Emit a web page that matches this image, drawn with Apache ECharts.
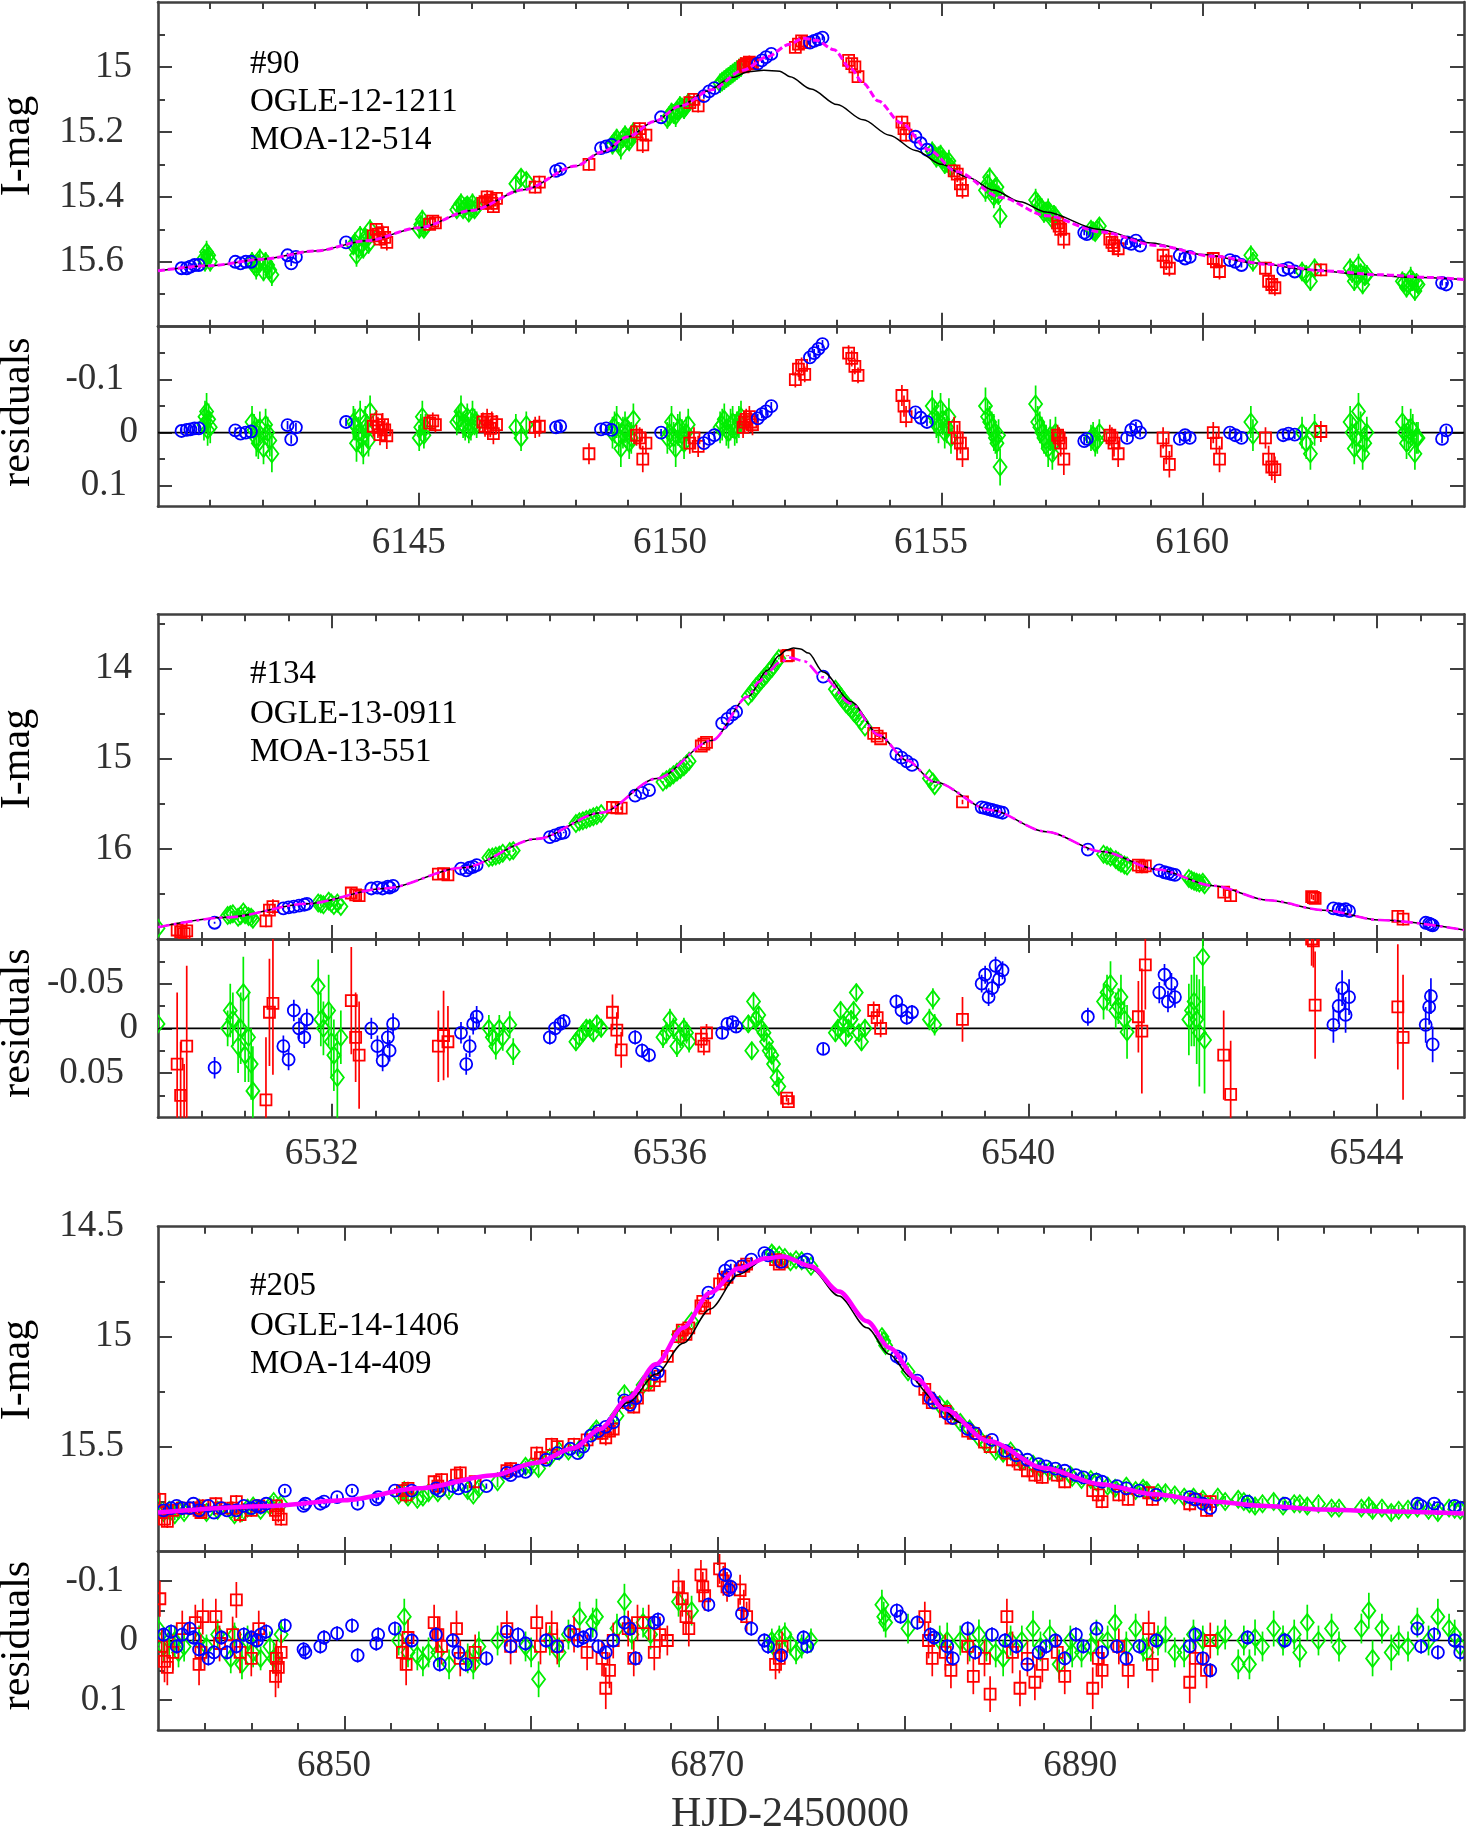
<!DOCTYPE html>
<html><head><meta charset="utf-8">
<script src="https://cdn.jsdelivr.net/npm/echarts@6/dist/echarts.min.js"></script>
<style>html,body{margin:0;padding:0;background:#fff}#c{width:1471px;height:1832px}</style>
</head><body><div id="c"></div>
<script>
// ---------------- DATA ----------------
// point format: [HJD-2450000, I-mag, residual, error]
const p1_label = ['#90', 'OGLE-12-1211', 'MOA-12-514'];
const p1_xRange = [6140, 6165];
const p1_magRange = [14.8, 15.8];
const p1_resRange = [-0.2, 0.14];
const p1_xMinor = [6141,6142,6143,6144,6145,6146,6147,6148,6149,6150,6151,6152,6153,6154,6155,6156,6157,6158,6159,6160,6161,6162,6163,6164];
const p1_xMajor = [6145, 6150, 6155, 6160];
const p1_xLabels = [6145, 6150, 6155, 6160];
const p1_magMinor = [14.9, 15.0, 15.1, 15.2, 15.3, 15.4, 15.5, 15.6, 15.7];
const p1_magMajor = [15, 15.2, 15.4, 15.6];
const p1_resMinor = [-0.15, -0.1, -0.05, 0, 0.05, 0.1];
const p1_resMajor = [-0.1, 0, 0.1];

const p1_red = [
[6144.12,15.52,-0.012,0.02],[6144.18,15.50,-0.024,0.018],[6144.21,15.515,-0.01,0.02],[6144.25,15.53,0.004,0.02],[6144.30,15.51,-0.015,0.022],[6144.34,15.525,-0.005,0.02],[6144.38,15.54,0.006,0.025],
[6145.20,15.485,-0.018,0.015],[6145.26,15.475,-0.022,0.016],[6145.31,15.48,-0.015,0.015],
[6146.22,15.42,-0.02,0.018],[6146.26,15.415,-0.012,0.02],[6146.30,15.40,-0.025,0.02],[6146.36,15.41,-0.008,0.017],[6146.39,15.42,-0.02,0.02],[6146.42,15.43,0.002,0.02],[6146.48,15.405,-0.015,0.018],
[6147.22,15.37,-0.01,0.02],[6147.30,15.355,-0.012,0.02],
[6148.25,15.30,0.04,0.02],
[6149.16,15.20,0.005,0.02],[6149.22,15.19,0.01,0.02],[6149.28,15.24,0.05,0.025],[6149.34,15.21,0.02,0.02],
[6150.18,15.11,0.02,0.02],[6150.26,15.10,0.01,0.02],[6150.34,15.12,0.026,0.02],
[6151.20,15.00,-0.01,0.02],[6151.23,14.995,-0.02,0.02],[6151.26,14.99,-0.025,0.02],[6151.32,14.985,-0.03,0.02],[6151.35,14.99,-0.02,0.02],[6151.38,14.99,-0.015,0.02],
[6152.20,14.94,-0.10,0.015],[6152.26,14.93,-0.12,0.015],[6152.32,14.92,-0.127,0.015],[6152.38,14.925,-0.11,0.015],
[6153.22,14.98,-0.15,0.015],[6153.28,14.99,-0.14,0.015],[6153.34,15.00,-0.125,0.015],[6153.40,15.03,-0.108,0.015],
[6154.24,15.17,-0.07,0.02],[6154.28,15.19,-0.05,0.02],[6154.32,15.21,-0.03,0.02],
[6155.24,15.32,-0.01,0.02],[6155.30,15.33,0.01,0.025],[6155.36,15.36,0.02,0.02],[6155.40,15.38,0.04,0.025],
[6157.22,15.48,0.005,0.02],[6157.25,15.49,0.01,0.02],[6157.28,15.50,0.02,0.025],[6157.34,15.53,0.05,0.03],
[6158.22,15.53,0.005,0.02],[6158.26,15.54,0.01,0.02],[6158.30,15.55,0.02,0.025],[6158.38,15.56,0.04,0.025],
[6159.24,15.58,0.01,0.02],[6159.30,15.60,0.035,0.025],[6159.36,15.62,0.06,0.025],
[6160.20,15.59,0.0,0.02],[6160.26,15.60,0.02,0.02],[6160.32,15.63,0.05,0.025],
[6161.20,15.62,0.01,0.02],[6161.26,15.66,0.05,0.025],[6161.32,15.67,0.065,0.025],[6161.38,15.68,0.07,0.025],
[6162.26,15.625,-0.002,0.02]
];
const p1_green = [
[6140.88,15.59,-0.015,0.03],[6140.90,15.60,-0.03,0.03],[6140.93,15.57,-0.04,0.035],[6140.95,15.585,-0.005,0.03],[6140.97,15.58,-0.025,0.03],[6141.0,15.60,-0.01,0.03],
[6141.80,15.60,-0.02,0.03],[6141.84,15.61,-0.005,0.03],[6141.88,15.62,0.01,0.035],[6141.92,15.605,0.02,0.03],[6141.95,15.59,-0.01,0.03],[6142.02,15.63,0.03,0.03],[6142.06,15.60,-0.015,0.03],[6142.10,15.61,0.0,0.03],[6142.14,15.625,0.015,0.03],[6142.18,15.64,0.04,0.035],
[6143.74,15.55,-0.02,0.03],[6143.77,15.54,-0.015,0.03],[6143.80,15.58,0.02,0.035],[6143.84,15.56,0.0,0.03],[6143.87,15.52,-0.03,0.03],[6143.90,15.545,0.01,0.03],[6143.93,15.56,0.03,0.03],[6143.97,15.525,-0.02,0.03],[6144.00,15.53,-0.005,0.03],[6144.03,15.545,0.015,0.03],[6144.06,15.50,-0.04,0.03],
[6145.00,15.50,0.01,0.025],[6145.03,15.485,-0.01,0.025],[6145.06,15.47,-0.03,0.03],[6145.09,15.50,0.005,0.025],[6145.12,15.49,-0.01,0.025],
[6145.72,15.44,-0.02,0.025],[6145.76,15.43,-0.025,0.025],[6145.80,15.42,-0.04,0.03],[6145.84,15.44,-0.015,0.025],[6145.88,15.43,-0.01,0.025],[6145.92,15.425,-0.03,0.025],[6145.95,15.45,-0.005,0.025],[6145.99,15.435,-0.01,0.025],[6146.02,15.42,-0.03,0.03],[6146.06,15.44,-0.02,0.025],[6146.10,15.43,-0.015,0.025],
[6146.85,15.36,-0.01,0.025],[6146.95,15.34,0.01,0.025],[6147.05,15.35,-0.015,0.025],
[6148.70,15.24,0.0,0.03],[6148.74,15.23,-0.01,0.03],[6148.78,15.22,-0.02,0.03],[6148.82,15.235,0.01,0.03],[6148.86,15.25,0.03,0.035],[6148.90,15.22,0.0,0.03],[6148.94,15.21,-0.01,0.03],[6148.98,15.225,0.0,0.03],[6149.02,15.23,0.02,0.03],[6149.06,15.215,0.01,0.03],[6149.10,15.20,-0.025,0.03],
[6149.75,15.16,0.01,0.03],[6149.79,15.15,0.0,0.03],[6149.83,15.14,-0.02,0.03],[6149.87,15.145,0.01,0.03],[6149.91,15.15,0.03,0.035],[6149.95,15.135,-0.005,0.03],[6149.99,15.12,-0.01,0.03],[6150.03,15.125,0.005,0.03],[6150.07,15.13,0.02,0.03],[6150.11,15.12,0.0,0.03],[6150.15,15.11,-0.015,0.03],
[6150.76,15.05,-0.01,0.03],[6150.80,15.045,-0.015,0.03],[6150.84,15.04,-0.025,0.03],[6150.88,15.035,-0.005,0.03],[6150.92,15.03,0.0,0.03],[6150.96,15.025,-0.015,0.03],[6151.00,15.02,-0.02,0.03],[6151.04,15.015,-0.005,0.03],[6151.08,15.01,-0.01,0.03],[6151.12,15.005,-0.02,0.03],[6151.16,15.00,-0.03,0.03],
[6154.82,15.26,-0.05,0.03],[6154.86,15.27,-0.03,0.03],[6154.90,15.28,-0.02,0.03],[6154.94,15.275,-0.01,0.03],[6154.98,15.27,-0.045,0.03],[6155.02,15.285,-0.025,0.03],[6155.06,15.30,0.0,0.03],[6155.10,15.295,-0.01,0.03],[6155.14,15.29,-0.03,0.035],[6155.18,15.31,0.01,0.03],
[6155.84,15.38,-0.05,0.035],[6155.88,15.36,-0.03,0.03],[6155.92,15.34,-0.02,0.03],[6155.96,15.38,-0.01,0.03],[6156.00,15.40,0.0,0.035],[6156.03,15.39,0.01,0.03],[6156.06,15.37,0.02,0.03],[6156.09,15.395,0.005,0.03],[6156.12,15.46,0.065,0.035],
[6156.80,15.41,-0.054,0.035],[6156.84,15.42,-0.02,0.03],[6156.88,15.43,-0.01,0.03],[6156.92,15.435,0.0,0.03],[6156.96,15.45,0.01,0.03],[6157.00,15.445,0.015,0.03],[6157.04,15.44,0.03,0.035],[6157.08,15.45,0.005,0.03],[6157.12,15.47,0.04,0.03],[6157.15,15.455,0.02,0.03],[6157.18,15.46,0.0,0.03],
[6157.86,15.50,0.01,0.025],[6157.90,15.505,0.005,0.025],[6157.94,15.51,0.02,0.025],[6157.98,15.50,0.015,0.025],[6158.02,15.49,0.0,0.025],
[6160.92,15.58,-0.02,0.03],[6160.96,15.60,0.005,0.03],
[6161.90,15.63,0.0,0.03],[6161.98,15.64,0.02,0.03],[6162.06,15.66,0.04,0.03],[6162.14,15.62,-0.005,0.03],
[6162.82,15.62,-0.02,0.03],[6162.86,15.635,0.0,0.03],[6162.90,15.66,0.03,0.03],[6162.94,15.64,0.01,0.03],[6162.98,15.61,-0.04,0.035],[6163.02,15.635,-0.01,0.03],[6163.06,15.67,0.04,0.03],[6163.10,15.645,0.02,0.03],[6163.14,15.64,0.0,0.03],
[6163.82,15.66,-0.02,0.03],[6163.86,15.665,0.0,0.03],[6163.90,15.68,0.02,0.03],[6163.94,15.67,0.005,0.03],[6163.98,15.65,-0.01,0.035],[6164.02,15.66,-0.005,0.03],[6164.06,15.69,0.04,0.03],[6164.09,15.665,0.01,0.03],[6164.12,15.67,0.01,0.03]
];
const p1_blue = [
[6140.45,15.62,-0.003,0.006],[6140.55,15.62,-0.005,0.006],[6140.62,15.615,-0.006,0.006],[6140.70,15.61,-0.008,0.006],[6140.78,15.61,-0.008,0.006],
[6141.48,15.60,-0.004,0.006],[6141.58,15.605,0.002,0.006],[6141.68,15.60,0.0,0.006],[6141.78,15.60,-0.002,0.006],
[6142.48,15.58,-0.014,0.008],[6142.55,15.605,0.013,0.008],[6142.64,15.585,-0.01,0.008],
[6143.60,15.54,-0.02,0.008],
[6147.62,15.32,-0.01,0.007],[6147.70,15.315,-0.012,0.007],
[6148.48,15.25,-0.006,0.007],[6148.58,15.245,-0.008,0.007],[6148.68,15.24,-0.005,0.007],
[6149.63,15.155,0.0,0.007],
[6150.45,15.09,0.02,0.008],[6150.55,15.075,0.012,0.008],[6150.65,15.065,0.005,0.008],
[6151.48,14.99,-0.027,0.008],[6151.56,14.98,-0.035,0.008],[6151.64,14.97,-0.04,0.008],[6151.74,14.96,-0.05,0.008],
[6152.48,14.925,-0.142,0.008],[6152.56,14.92,-0.15,0.008],[6152.64,14.915,-0.158,0.008],[6152.72,14.91,-0.167,0.008],
[6154.50,15.215,-0.038,0.008],[6154.60,15.235,-0.028,0.008],[6154.72,15.255,-0.02,0.008],
[6157.73,15.51,0.016,0.008],[6157.78,15.515,0.012,0.008],
[6158.55,15.54,0.01,0.008],[6158.63,15.545,-0.005,0.008],[6158.72,15.535,-0.012,0.008],[6158.80,15.55,0.0,0.008],
[6159.56,15.58,0.012,0.008],[6159.66,15.59,0.005,0.008],[6159.75,15.585,0.01,0.008],
[6160.52,15.595,0.0,0.008],[6160.62,15.60,0.005,0.008],[6160.74,15.61,0.01,0.008],
[6161.54,15.625,0.005,0.008],[6161.64,15.62,0.002,0.008],[6161.76,15.63,0.004,0.008],
[6164.58,15.665,0.012,0.008],[6164.66,15.67,-0.004,0.008]
];
const p1_modelBlack = [[6140,15.628],[6141,15.612],[6142,15.592],[6143,15.567],[6144,15.535],[6145,15.495],[6146,15.442],[6147,15.378],[6148,15.305],[6148.5,15.262],[6149,15.215],[6149.5,15.168],[6150,15.12],[6150.5,15.075],[6151,15.032],[6151.3,15.015],[6151.6,15.01],[6151.9,15.013],[6152.1,15.03],[6152.5,15.068],[6153,15.116],[6153.5,15.163],[6154,15.21],[6154.5,15.257],[6155,15.30],[6155.5,15.34],[6156,15.38],[6156.5,15.415],[6157,15.447],[6158,15.50],[6159,15.542],[6160,15.578],[6161,15.604],[6162,15.624],[6163,15.638],[6164,15.648],[6165,15.655]];
const p1_modelMagenta = [[6140,15.628],[6141,15.612],[6142,15.592],[6143,15.567],[6144,15.535],[6145,15.495],[6146,15.442],[6147,15.378],[6148,15.305],[6148.5,15.262],[6149,15.215],[6149.5,15.168],[6150,15.12],[6150.6,15.07],[6151.2,15.01],[6151.66,14.969],[6152.09,14.93],[6152.35,14.912],[6152.6,14.918],[6152.94,14.947],[6153.26,15.005],[6153.5,15.05],[6153.79,15.105],[6154.22,15.172],[6154.75,15.255],[6155.28,15.322],[6156.14,15.402],[6157,15.458],[6158.05,15.508],[6159.12,15.55],[6160.19,15.583],[6161.25,15.608],[6162.32,15.628],[6163.38,15.64],[6164.3,15.648],[6165,15.655]];

const p2_label = ['#134', 'OGLE-13-0911', 'MOA-13-551'];
const p2_xRange = [6530, 6545];
const p2_magRange = [13.4, 17];
const p2_resRange = [-0.1, 0.1];
const p2_xMinor = [6530.5,6531,6531.5,6532,6532.5,6533,6533.5,6534,6534.5,6535,6535.5,6536,6536.5,6537,6537.5,6538,6538.5,6539,6539.5,6540,6540.5,6541,6541.5,6542,6542.5,6543,6543.5,6544,6544.5];
const p2_xMajor = [6532, 6536, 6540, 6544];
const p2_xLabels = [6532, 6536, 6540, 6544];
const p2_magMinor = [13.5, 14, 14.5, 15, 15.5, 16, 16.5];
const p2_magMajor = [14, 15, 16];
const p2_resMinor = [-0.075, -0.05, -0.025, 0, 0.025, 0.05, 0.075];
const p2_resMajor = [-0.05, 0, 0.05];

const p2_red = [
[6530.22,16.90,0.04,0.08],[6530.26,16.92,0.075,0.06],[6530.30,16.94,0.11,0.07],[6530.33,16.91,0.02,0.09],
[6531.24,16.80,0.08,0.07],[6531.28,16.68,-0.018,0.06],[6531.32,16.64,-0.028,0.08],
[6532.22,16.49,-0.031,0.06],[6532.27,16.51,0.01,0.05],[6532.31,16.52,0.03,0.06],
[6533.22,16.28,0.02,0.04],[6533.28,16.275,0.008,0.05],[6533.33,16.29,0.015,0.04],
[6535.22,15.54,-0.018,0.02],[6535.27,15.545,0.002,0.02],[6535.32,15.55,0.024,0.02],
[6536.24,14.86,0.012,0.01],[6536.27,14.84,0.02,0.01],[6536.30,14.82,0.005,0.01],
[6537.22,13.86,0.078,0.004],[6537.24,13.855,0.082,0.004],
[6538.22,14.72,-0.02,0.01],[6538.26,14.75,-0.012,0.01],[6538.30,14.78,0.0,0.01],
[6539.24,15.48,-0.01,0.025],
[6541.26,16.18,-0.013,0.04],[6541.30,16.20,0.003,0.07],[6541.34,16.19,-0.071,0.05],
[6542.24,16.48,0.03,0.05],[6542.32,16.52,0.074,0.06],
[6543.25,16.53,-0.1,0.03],[6543.27,16.54,-0.098,0.03],[6543.29,16.55,-0.026,0.06],
[6544.24,16.75,-0.024,0.07],[6544.30,16.78,0.01,0.07]
];
const p2_green = [
[6530.0,16.88,-0.005,0.005],
[6530.80,16.74,0.0,0.02],[6530.83,16.73,-0.02,0.03],[6530.86,16.72,-0.01,0.03],[6530.92,16.76,0.02,0.03],[6530.95,16.74,0.0,0.04],[6530.98,16.70,-0.04,0.04],[6531.00,16.73,0.03,0.03],[6531.04,16.75,0.01,0.05],[6531.07,16.76,0.04,0.04],[6531.09,16.78,0.07,0.05],
[6531.84,16.60,-0.047,0.03],[6531.87,16.61,-0.01,0.03],[6531.90,16.62,0.0,0.03],[6531.96,16.58,-0.02,0.04],[6531.99,16.60,0.015,0.04],[6532.02,16.63,0.03,0.04],[6532.06,16.60,0.055,0.05],[6532.10,16.64,0.01,0.03],
[6533.80,16.10,0.0,0.015],[6533.84,16.09,0.01,0.015],[6533.88,16.08,0.02,0.015],[6533.92,16.07,0.0,0.015],[6533.96,16.05,0.01,0.015],[6534.04,16.03,-0.004,0.015],[6534.08,16.02,0.026,0.015],
[6534.80,15.72,0.015,0.01],[6534.84,15.70,0.01,0.01],[6534.88,15.69,0.005,0.01],[6534.92,15.675,0.0,0.01],[6534.96,15.66,0.0,0.01],[6535.00,15.645,0.005,0.01],[6535.04,15.63,-0.005,0.01],[6535.09,15.61,0.0,0.01],
[6535.80,15.26,0.01,0.012],[6535.84,15.235,0.005,0.012],[6535.88,15.21,-0.01,0.012],[6535.92,15.18,0.0,0.012],[6535.96,15.15,0.02,0.012],[6536.00,15.12,0.01,0.012],[6536.04,15.09,0.0,0.012],[6536.07,15.06,0.005,0.012],[6536.10,15.03,0.015,0.012],
[6536.78,14.31,-0.005,0.01],[6536.82,14.27,0.025,0.01],[6536.84,14.24,-0.03,0.01],[6536.87,14.20,-0.01,0.01],[6536.90,14.17,-0.015,0.01],[6536.93,14.135,0.0,0.01],[6536.96,14.10,0.005,0.01],[6536.99,14.07,0.015,0.01],[6537.02,14.03,0.025,0.01],[6537.05,14.00,0.03,0.01],[6537.07,13.97,0.04,0.01],[6537.11,13.92,0.055,0.01],[6537.13,13.89,0.065,0.01],
[6537.78,14.23,0.005,0.01],[6537.81,14.27,0.0,0.01],[6537.84,14.31,-0.02,0.01],[6537.87,14.35,-0.005,0.01],[6537.90,14.39,0.01,0.01],[6537.93,14.42,0.0,0.01],[6537.96,14.45,-0.01,0.01],[6537.99,14.49,-0.02,0.01],[6538.02,14.52,-0.04,0.01],[6538.05,14.555,0.005,0.01],[6538.08,14.59,0.015,0.01],[6538.12,14.65,0.0,0.01],
[6538.86,15.22,-0.01,0.012],[6538.90,15.26,-0.033,0.012],[6538.92,15.30,-0.004,0.012],
[6540.86,16.06,-0.03,0.02],[6540.90,16.075,-0.04,0.02],[6540.94,16.09,-0.05,0.025],[6541.00,16.12,-0.02,0.02],[6541.03,16.14,-0.025,0.02],[6541.06,16.16,-0.035,0.025],[6541.10,16.18,-0.01,0.02],[6541.13,16.19,0.004,0.03],
[6541.84,16.33,-0.01,0.04],[6541.87,16.345,-0.02,0.04],[6541.90,16.36,-0.03,0.05],[6541.93,16.37,-0.01,0.05],[6541.96,16.38,0.005,0.06],[6542.00,16.37,-0.08,0.07],[6542.02,16.40,0.013,0.06]
];
const p2_blue = [
[6530.65,16.82,0.044,0.012],
[6531.44,16.66,0.02,0.012],[6531.50,16.65,0.035,0.012],[6531.56,16.64,-0.02,0.012],[6531.62,16.63,0.0,0.012],[6531.68,16.62,0.01,0.012],[6531.71,16.61,-0.01,0.012],
[6532.45,16.44,0.0,0.012],[6532.52,16.43,0.02,0.012],[6532.58,16.44,0.036,0.012],[6532.64,16.42,0.01,0.012],[6532.66,16.43,0.025,0.012],[6532.70,16.41,-0.005,0.012],
[6533.48,16.22,0.005,0.012],[6533.54,16.24,0.04,0.012],[6533.58,16.21,0.02,0.012],[6533.62,16.20,-0.005,0.012],[6533.66,16.18,-0.013,0.012],
[6534.50,15.87,0.01,0.008],[6534.56,15.85,0.0,0.008],[6534.62,15.83,-0.005,0.008],[6534.66,15.82,-0.008,0.008],
[6535.48,15.41,0.01,0.008],[6535.56,15.38,0.025,0.008],[6535.64,15.35,0.03,0.008],
[6536.48,14.61,0.005,0.006],[6536.54,14.56,-0.005,0.006],[6536.60,14.51,-0.007,0.006],[6536.64,14.48,-0.002,0.006],
[6537.64,14.09,0.023,0.006],
[6538.48,14.95,-0.03,0.008],[6538.54,14.99,-0.02,0.008],[6538.60,15.03,-0.012,0.008],[6538.66,15.07,-0.018,0.008],
[6539.46,15.54,-0.05,0.01],[6539.50,15.55,-0.06,0.01],[6539.54,15.56,-0.035,0.01],[6539.58,15.57,-0.045,0.01],[6539.62,15.58,-0.07,0.01],[6539.66,15.59,-0.055,0.01],[6539.70,15.60,-0.065,0.01],
[6540.68,16.01,-0.013,0.01],
[6541.50,16.24,-0.04,0.012],[6541.56,16.26,-0.06,0.012],[6541.60,16.27,-0.03,0.012],[6541.64,16.28,-0.05,0.012],[6541.68,16.29,-0.035,0.012],
[6543.50,16.66,-0.004,0.02],[6543.56,16.67,-0.025,0.02],[6543.60,16.68,-0.045,0.02],[6543.64,16.67,-0.015,0.02],[6543.68,16.69,-0.035,0.02],
[6544.56,16.82,-0.004,0.02],[6544.60,16.83,-0.024,0.02],[6544.62,16.84,-0.036,0.02],[6544.64,16.85,0.018,0.02]
];
const p2_modelBlack = [[6530,16.87],[6530.8,16.76],[6531.7,16.61],[6532.6,16.44],[6533.5,16.21],[6534.35,15.89],[6535.09,15.60],[6535.73,15.22],[6536.36,14.80],[6536.78,14.31],[6537.0,14.02],[6537.13,13.86],[6537.22,13.795],[6537.3,13.775],[6537.38,13.785],[6537.47,13.83],[6537.64,14.04],[6537.96,14.37],[6538.28,14.74],[6538.6,15.02],[6538.92,15.26],[6539.56,15.57],[6540.2,15.81],[6540.84,16.03],[6541.48,16.23],[6542.12,16.41],[6542.75,16.57],[6543.39,16.68],[6544.03,16.79],[6545,16.90]];
const p2_modelMagenta = [[6530,16.87],[6530.8,16.76],[6531.7,16.61],[6532.6,16.44],[6533.5,16.21],[6534.35,15.89],[6535.09,15.60],[6535.73,15.22],[6536.36,14.80],[6536.78,14.31],[6536.9,14.15],[6537.0,14.05],[6537.13,13.94],[6537.26,13.88],[6537.42,13.92],[6537.64,14.10],[6537.96,14.39],[6538.28,14.74],[6538.6,15.02],[6538.92,15.26],[6539.56,15.57],[6540.2,15.81],[6540.84,16.03],[6541.48,16.23],[6542.12,16.41],[6542.75,16.57],[6543.39,16.68],[6544.03,16.79],[6545,16.90]];

const p3_label = ['#205', 'OGLE-14-1406', 'MOA-14-409'];
const p3_xRange = [6840, 6910];
const p3_magRange = [14.5, 15.975];
const p3_resRange = [-0.15, 0.15];
const p3_xMinor = [6842.5,6845,6847.5,6850,6852.5,6855,6857.5,6860,6862.5,6865,6867.5,6870,6872.5,6875,6877.5,6880,6882.5,6885,6887.5,6890,6892.5,6895,6897.5,6900,6902.5,6905,6907.5];
const p3_xMajor = [6850, 6860, 6870, 6880, 6890, 6900];
const p3_xLabels = [6850, 6870, 6890];
const p3_magMinor = [14.75, 15, 15.25, 15.5, 15.75];
const p3_magMajor = [15, 15.5];
const p3_magLabels = [14.5, 15, 15.5];
const p3_resMinor = [-0.1, -0.05, 0, 0.05, 0.1];
const p3_resMajor = [-0.1, 0, 0.1];

const p3_red = [
[6840.1,15.74,-0.07,0.03],[6840.2,15.80,0.01,0.03],[6840.35,15.83,0.035,0.035],[6840.5,15.84,0.045,0.03],[6840.8,15.79,0.02,0.03],[6841.3,15.78,-0.02,0.03],
[6842.0,15.78,-0.03,0.03],[6842.2,15.79,0.04,0.035],[6842.3,15.80,0.02,0.03],[6842.4,15.77,-0.04,0.03],
[6843.1,15.76,-0.04,0.03],[6843.3,15.78,0.005,0.03],
[6844.0,15.78,-0.01,0.03],[6844.2,15.75,-0.068,0.03],[6844.4,15.81,0.02,0.035],[6845.0,15.79,0.03,0.03],[6845.4,15.77,-0.02,0.03],
[6846.3,15.79,0.06,0.035],[6846.35,15.77,0.03,0.03],[6846.45,15.81,0.045,0.035],[6846.6,15.83,0.02,0.03],
[6853.1,15.70,0.02,0.03],[6853.3,15.72,0.04,0.035],[6853.4,15.69,-0.005,0.03],
[6854.8,15.66,-0.03,0.03],[6855.0,15.68,-0.01,0.03],[6855.2,15.65,0.01,0.03],
[6856.0,15.63,-0.02,0.03],[6856.2,15.62,0.03,0.03],[6857.0,15.66,0.02,0.03],
[6858.7,15.61,-0.02,0.03],[6858.9,15.60,0.01,0.03],
[6860.3,15.53,-0.03,0.03],[6860.5,15.55,0.01,0.03],
[6861.1,15.49,-0.02,0.03],[6861.4,15.50,0.01,0.03],[6862.3,15.49,-0.01,0.03],[6863.0,15.47,0.02,0.03],
[6863.8,15.44,0.03,0.03],[6864.0,15.46,0.08,0.035],[6864.2,15.43,0.05,0.03],[6864.4,15.42,0.0,0.03],
[6865.2,15.30,-0.02,0.03],[6865.5,15.32,0.03,0.03],[6865.7,15.28,-0.03,0.03],
[6866.3,15.22,-0.03,0.03],[6866.6,15.20,0.02,0.03],[6866.9,15.18,-0.01,0.03],
[6867.3,15.09,0.0,0.025],
[6867.9,15.00,-0.09,0.03],[6868.1,14.97,-0.07,0.03],[6868.3,14.99,-0.04,0.03],[6868.45,14.96,-0.02,0.03],
[6869.1,14.86,-0.11,0.025],[6869.2,14.84,-0.09,0.025],[6869.3,14.87,-0.075,0.025],
[6870.1,14.76,-0.12,0.025],[6870.3,14.74,-0.10,0.025],[6870.5,14.73,-0.09,0.025],
[6871.2,14.70,-0.085,0.025],[6871.4,14.68,-0.06,0.025],[6871.55,14.67,-0.04,0.025],
[6873.1,14.65,0.04,0.025],[6873.3,14.67,0.03,0.025],[6873.45,14.66,0.01,0.025],
[6881.1,15.24,-0.04,0.025],[6881.3,15.28,0.0,0.03],[6881.5,15.30,0.03,0.03],
[6882.2,15.34,0.02,0.03],[6882.5,15.37,0.05,0.03],
[6883.4,15.43,0.01,0.03],[6883.7,15.44,0.06,0.03],
[6884.3,15.48,0.03,0.03],[6884.6,15.50,0.09,0.03],
[6885.5,15.53,-0.04,0.03],[6885.8,15.56,0.02,0.035],[6886.2,15.58,0.08,0.03],[6886.6,15.61,0.03,0.03],
[6887.0,15.63,0.07,0.03],[6887.4,15.64,0.04,0.03],
[6888.2,15.63,0.02,0.03],[6888.6,15.66,0.06,0.03],
[6890.1,15.70,0.08,0.035],[6890.4,15.72,0.03,0.03],[6890.6,15.75,0.05,0.03],
[6891.5,15.72,0.01,0.03],[6892.0,15.74,0.05,0.03],
[6893.1,15.71,-0.02,0.03],[6893.3,15.74,0.04,0.03],
[6895.3,15.76,0.07,0.035],[6895.6,15.74,0.03,0.03],[6896.2,15.79,0.05,0.03],[6896.4,15.75,0.0,0.03]
];
const p3_green = [
[6840.0,15.78,-0.02,0.02],[6840.3,15.80,0.01,0.025],[6840.6,15.79,0.0,0.025],[6840.9,15.81,0.0,0.025],[6841.1,15.79,0.02,0.025],[6841.4,15.80,0.01,0.025],
[6842.2,15.78,0.0,0.025],[6842.6,15.80,0.01,0.02],[6843.2,15.79,-0.01,0.025],[6843.9,15.79,0.03,0.025],[6844.1,15.81,-0.01,0.02],[6844.5,15.80,0.04,0.025],[6844.8,15.78,0.0,0.025],
[6845.1,15.77,0.02,0.025],[6845.5,15.79,0.03,0.02],[6846.0,15.77,0.01,0.025],[6846.2,15.75,0.03,0.025],[6846.6,15.76,-0.01,0.025],
[6852.9,15.72,0.0,0.025],[6853.2,15.70,-0.04,0.03],[6853.4,15.73,0.02,0.025],[6853.9,15.74,0.025,0.025],[6854.2,15.73,0.035,0.025],[6854.5,15.71,0.02,0.025],
[6855.0,15.71,0.02,0.025],[6855.6,15.70,0.04,0.025],[6856.6,15.70,0.03,0.025],[6856.9,15.72,0.04,0.025],[6857.2,15.69,0.01,0.025],[6858.2,15.66,0.0,0.025],
[6859.7,15.59,0.01,0.025],[6860.0,15.59,0.02,0.025],[6860.4,15.60,0.065,0.03],[6861.0,15.55,0.0,0.025],[6861.5,15.52,0.02,0.025],[6862.0,15.52,-0.01,0.025],[6862.6,15.51,-0.04,0.025],
[6863.3,15.44,-0.03,0.025],[6863.5,15.42,-0.04,0.03],[6864.6,15.36,-0.02,0.025],
[6865.0,15.26,-0.065,0.03],[6865.4,15.29,-0.01,0.025],[6866.0,15.22,-0.03,0.025],[6866.4,15.20,-0.01,0.025],
[6867.9,14.99,-0.065,0.025],[6868.6,14.93,-0.05,0.025],
[6872.9,14.62,0.0,0.02],[6873.0,14.63,0.01,0.02],[6873.3,14.63,-0.005,0.02],[6873.6,14.64,-0.01,0.02],[6873.9,14.66,0.005,0.02],[6874.2,14.65,0.02,0.02],[6874.5,14.655,0.01,0.02],[6875.0,14.68,0.0,0.02],
[6878.8,15.00,-0.06,0.025],[6878.9,15.02,-0.04,0.025],[6879.0,15.04,-0.03,0.025],[6880.2,15.16,-0.02,0.025],
[6881.9,15.31,0.0,0.025],[6882.3,15.33,0.0,0.03],[6883.0,15.39,0.0,0.025],[6883.5,15.42,0.01,0.025],[6884.0,15.46,-0.01,0.025],[6884.4,15.49,0.01,0.025],[6884.9,15.52,0.02,0.025],
[6885.3,15.53,0.03,0.03],[6885.7,15.52,0.0,0.025],[6886.3,15.57,0.0,0.025],[6886.9,15.58,-0.02,0.03],[6887.3,15.60,0.01,0.025],[6887.8,15.61,-0.01,0.025],[6888.3,15.62,0.04,0.025],[6888.9,15.63,0.0,0.025],
[6889.0,15.64,0.02,0.025],[6889.5,15.65,0.02,0.025],[6890.0,15.65,0.01,0.025],[6890.3,15.66,-0.01,0.025],[6890.9,15.68,0.0,0.025],[6891.3,15.69,-0.03,0.03],[6891.9,15.68,0.01,0.025],
[6892.4,15.70,-0.02,0.025],[6892.8,15.69,0.01,0.025],[6893.0,15.70,0.02,0.025],[6893.6,15.71,0.0,0.025],[6894.0,15.71,-0.01,0.03],[6894.5,15.72,0.02,0.025],
[6895.0,15.73,0.02,0.025],[6895.5,15.73,-0.01,0.025],[6896.0,15.74,0.0,0.025],[6896.8,15.73,0.0,0.025],[6897.2,15.75,-0.01,0.025],[6897.9,15.74,0.04,0.025],
[6898.2,15.75,0.0,0.025],[6898.5,15.76,0.04,0.025],[6898.8,15.77,-0.005,0.03],[6899.2,15.76,0.01,0.025],[6899.8,15.75,-0.02,0.03],[6900.3,15.77,0.0,0.025],
[6900.9,15.76,-0.01,0.025],[6901.2,15.76,0.02,0.025],[6901.6,15.77,-0.03,0.03],[6902.2,15.76,0.0,0.025],[6902.9,15.78,-0.02,0.025],[6903.3,15.78,0.01,0.025],
[6904.5,15.78,-0.02,0.025],[6904.9,15.77,-0.05,0.03],[6905.1,15.79,0.03,0.03],[6905.6,15.78,-0.02,0.025],[6906.1,15.80,0.02,0.03],[6906.5,15.79,0.0,0.025],
[6907.0,15.785,0.01,0.025],[6907.5,15.78,-0.03,0.025],[6908.1,15.79,0.0,0.025],[6908.6,15.80,-0.04,0.03],[6909.2,15.78,-0.02,0.025],[6909.5,15.785,-0.01,0.025],[6909.8,15.79,0.01,0.025]
];
const p3_blue = [
[6840.3,15.79,-0.01,0.012],[6840.7,15.78,-0.015,0.012],[6841.0,15.77,0.01,0.012],[6841.3,15.78,-0.01,0.012],[6841.7,15.78,-0.02,0.012],
[6841.9,15.76,-0.005,0.012],[6842.2,15.79,0.015,0.012],[6842.7,15.77,0.03,0.012],[6843.0,15.80,0.02,0.012],
[6843.4,15.78,-0.005,0.012],[6843.7,15.79,0.02,0.012],[6844.2,15.79,0.01,0.012],[6844.6,15.77,-0.01,0.012],[6845.0,15.78,-0.005,0.012],
[6845.3,15.77,0.0,0.012],[6845.5,15.775,-0.01,0.012],[6845.8,15.76,-0.015,0.012],[6846.8,15.70,-0.025,0.012],[6847.8,15.77,0.015,0.012],
[6847.9,15.76,0.02,0.012],[6848.7,15.76,0.01,0.012],[6848.9,15.75,-0.005,0.012],[6849.6,15.73,-0.012,0.012],
[6850.4,15.70,-0.025,0.012],[6850.7,15.76,0.025,0.012],[6851.7,15.74,0.005,0.012],[6851.8,15.73,-0.01,0.012],
[6852.7,15.70,-0.02,0.012],[6853.6,15.70,0.0,0.012],[6854.9,15.69,-0.01,0.012],[6855.1,15.70,0.04,0.012],[6855.8,15.68,0.0,0.012],
[6856.1,15.69,0.02,0.012],[6856.5,15.68,0.04,0.012],[6857.6,15.68,0.03,0.012],[6858.7,15.62,-0.015,0.012],
[6858.9,15.63,0.01,0.012],[6859.3,15.61,-0.01,0.012],[6859.7,15.615,0.005,0.012],[6860.8,15.56,0.0,0.012],[6861.4,15.53,0.01,0.012],[6862.1,15.51,-0.015,0.012],
[6862.5,15.53,0.0,0.012],[6862.8,15.50,-0.005,0.012],[6863.2,15.45,-0.01,0.012],[6863.6,15.43,0.01,0.012],
[6864.0,15.41,0.02,0.012],[6864.4,15.39,0.0,0.012],[6865.0,15.29,-0.03,0.012],[6865.3,15.31,-0.02,0.012],
[6865.6,15.28,0.03,0.012],[6866.6,15.17,-0.03,0.012],[6866.8,15.16,-0.035,0.012],[6869.5,14.80,-0.06,0.012],[6870.4,14.70,-0.11,0.012],
[6870.6,14.72,-0.085,0.012],[6870.7,14.68,-0.09,0.012],[6871.3,14.68,-0.045,0.012],[6871.8,14.65,-0.02,0.012],[6872.5,14.62,0.0,0.012],
[6872.7,14.63,0.01,0.012],[6873.4,14.66,0.025,0.012],[6874.6,14.66,-0.005,0.012],[6874.8,14.65,0.01,0.012],
[6879.6,15.09,-0.05,0.012],[6879.8,15.10,-0.04,0.012],[6880.7,15.20,-0.03,0.012],[6881.4,15.28,-0.01,0.012],
[6881.6,15.30,-0.005,0.012],[6882.3,15.35,0.01,0.012],[6882.6,15.37,0.03,0.012],[6883.4,15.42,-0.02,0.012],
[6883.8,15.44,0.02,0.012],[6884.7,15.47,-0.01,0.012],[6885.4,15.52,0.0,0.012],[6886.0,15.54,0.01,0.012],
[6886.6,15.56,0.04,0.012],[6887.2,15.58,0.02,0.012],[6887.6,15.59,0.01,0.012],[6888.1,15.60,0.0,0.012],[6888.6,15.61,0.03,0.012],
[6889.2,15.63,-0.01,0.012],[6889.6,15.64,0.01,0.012],[6890.3,15.65,-0.02,0.012],[6890.6,15.66,0.02,0.012],
[6891.4,15.68,0.01,0.012],[6891.9,15.69,0.03,0.012],[6892.6,15.70,0.01,0.012],[6893.5,15.72,0.0,0.012],[6895.3,15.73,0.01,0.012],[6895.6,15.74,-0.01,0.012],
[6896.0,15.76,0.03,0.012],[6896.4,15.78,0.05,0.012],[6898.4,15.75,-0.005,0.012],[6900.4,15.76,0.0,0.012],
[6907.5,15.76,-0.02,0.012],[6907.7,15.77,0.01,0.012],[6908.4,15.76,-0.01,0.012],[6908.6,15.78,0.02,0.012],
[6909.5,15.77,0.0,0.012],[6909.8,15.78,0.02,0.012]
];
const p3_modelBlack = [[6840,15.80],[6846,15.77],[6850,15.744],[6854,15.69],[6858,15.63],[6860.2,15.575],[6862.3,15.506],[6863.7,15.425],[6865.2,15.30],[6866.7,15.17],[6868.15,15.03],[6869.6,14.874],[6871.1,14.718],[6872.6,14.644],[6873.5,14.63],[6875,14.69],[6876.5,14.815],[6878,14.96],[6879.2,15.08],[6880.35,15.185],[6881.5,15.28],[6883,15.39],[6884.5,15.475],[6887.5,15.597],[6890.5,15.671],[6893.4,15.717],[6896.4,15.75],[6899.4,15.77],[6902.4,15.786],[6905.4,15.794],[6910,15.805]];
const p3_modelMagenta = [[6840,15.80],[6846,15.77],[6850,15.744],[6854,15.69],[6858,15.63],[6860.2,15.575],[6862.3,15.506],[6863.7,15.42],[6865.2,15.28],[6866.7,15.125],[6868.15,14.96],[6869.6,14.80],[6871.1,14.69],[6872.6,14.644],[6873.5,14.635],[6875,14.68],[6876.5,14.795],[6878,14.93],[6879.2,15.05],[6880.65,15.19],[6882.15,15.33],[6884.5,15.475],[6887.5,15.597],[6890.5,15.671],[6893.4,15.717],[6896.4,15.75],[6899.4,15.77],[6902.4,15.786],[6905.4,15.794],[6910,15.805]];

const xTitle = 'HJD-2450000';
const yTitleMain = 'I-mag';
const yTitleRes = 'residuals';

// ---------------- RENDERING ----------------
const FONT = '"Liberation Serif", "Times New Roman", serif';
const AX = '#404040';
const TXT = '#303030';
const RED = '#ff0000', GREEN = '#00ee00', BLUE = '#0000ff', MAG = '#ff00ff';

const panels = [
  { lab: p1_label, xr: p1_xRange, mr: p1_magRange, rr: p1_resRange, xMin: p1_xMinor, xMaj: p1_xMajor, xLab: p1_xLabels,
    mMin: p1_magMinor, mMaj: p1_magMajor, mLab: p1_magMajor, rMin: p1_resMinor, rMaj: p1_resMajor,
    red: p1_red, green: p1_green, blue: p1_blue, black: p1_modelBlack, mag: p1_modelMagenta,
    L: { mainTop: 2, mainH: 324.7, resTop: 326.7, resH: 180, ann: [64.5, 102.5, 140.5], imagY: 146, resY: 412 },
    magStyle: { width: 3, type: [7, 3] } },
  { lab: p2_label, xr: p2_xRange, mr: p2_magRange, rr: p2_resRange, xMin: p2_xMinor, xMaj: p2_xMajor, xLab: p2_xLabels,
    mMin: p2_magMinor, mMaj: p2_magMajor, mLab: p2_magMajor, rMin: p2_resMinor, rMaj: p2_resMajor,
    red: p2_red, green: p2_green, blue: p2_blue, black: p2_modelBlack, mag: p2_modelMagenta,
    L: { mainTop: 614.3, mainH: 324.7, resTop: 939, resH: 178.7, ann: [674.5, 714, 752.5], imagY: 759, resY: 1023 },
    magStyle: { width: 2.6, type: [12, 4, 3, 4] } },
  { lab: p3_label, xr: p3_xRange, mr: p3_magRange, rr: p3_resRange, xMin: p3_xMinor, xMaj: p3_xMajor, xLab: p3_xLabels,
    mMin: p3_magMinor, mMaj: p3_magMajor, mLab: p3_magLabels, rMin: p3_resMinor, rMaj: p3_resMajor,
    red: p3_red, green: p3_green, blue: p3_blue, black: p3_modelBlack, mag: p3_modelMagenta,
    L: { mainTop: 1226.7, mainH: 324.3, resTop: 1551, resH: 179, ann: [1286.5, 1326.5, 1364.5], imagY: 1370, resY: 1635.5 },
    magStyle: { width: 4.5, type: 'solid' } }
];

const GL = 158, GW = 1306;
const grids = [], xAxes = [], yAxes = [], series = [], graphic = [];

function fmt(v) { return String(Math.round(v * 1000) / 1000); }
const base = { fontSize: 37, fontFamily: FONT, color: TXT };

function yLabFmt(v) {
  const s = fmt(v); const n = s.length;
  const k = n <= 1 ? 'a' : n === 2 ? 'b' : n === 3 ? 'c' : 'd';
  return '{' + k + '|' + s + '}';
}

function addX(g, pos, range, ticks, len, showLine, labels) {
  const o = {
    type: 'value', gridIndex: g, position: pos, min: range[0], max: range[1],
    splitLine: { show: false }, axisPointer: { show: false },
    axisLine: { show: showLine, onZero: false, lineStyle: { color: AX, width: 2.6 } },
    axisTick: { show: true, inside: true, length: len, customValues: ticks, lineStyle: { color: AX, width: 2 } },
    axisLabel: labels ? { show: true, customValues: labels, margin: 18,
      formatter: v => '{x|' + fmt(v) + '}',
      rich: { x: Object.assign({}, base, { padding: [0, 21, 0, 0] }) } } : { show: false }
  };
  xAxes.push(o); return xAxes.length - 1;
}
function addY(g, pos, range, ticks, len, showLine, labels) {
  const o = {
    type: 'value', gridIndex: g, position: pos, min: range[0], max: range[1], inverse: true,
    splitLine: { show: false }, axisPointer: { show: false },
    axisLine: { show: showLine, onZero: false, lineStyle: { color: AX, width: 2.6 } },
    axisTick: { show: true, inside: true, length: len, customValues: ticks, lineStyle: { color: AX, width: 2 } },
    axisLabel: labels ? { show: true, customValues: labels, margin: 20, formatter: yLabFmt,
      rich: { a: Object.assign({}, base), b: Object.assign({}, base, { padding: [0, 6, 0, 0] }),
              c: Object.assign({}, base, { padding: [0, 11, 0, 0] }), d: Object.assign({}, base, { padding: [0, 14, 0, 0] }) } } : { show: false }
  };
  yAxes.push(o); return yAxes.length - 1;
}

function errSeries(xi, yi, pts, vi, shape, color) {
  return {
    type: 'custom', xAxisIndex: xi, yAxisIndex: yi, clip: true, silent: true,
    encode: { x: 0, y: 1 },
    data: pts.map(p => [p[0], p[vi], p[3]]),
    renderItem: function (params, api) {
      const x = api.value(0), y = api.value(1), e = api.value(2);
      const c = api.coord([x, y]);
      const a = api.coord([x, y - e]), b = api.coord([x, y + e]);
      const st = { stroke: color, lineWidth: 1.8, fill: 'none' };
      const kids = [{ type: 'line', shape: { x1: c[0], y1: a[1], x2: c[0], y2: b[1] }, style: { stroke: color, lineWidth: 1.7 } }];
      if (shape === 'circle') kids.push({ type: 'circle', shape: { cx: c[0], cy: c[1], r: 6 }, style: st });
      else if (shape === 'rect') kids.push({ type: 'rect', shape: { x: c[0] - 5.5, y: c[1] - 5.5, width: 11, height: 11 }, style: st });
      else kids.push({ type: 'polygon', shape: { points: [[c[0], c[1] - 8.5], [c[0] + 6.5, c[1]], [c[0], c[1] + 8.5], [c[0] - 6.5, c[1]]] }, style: st });
      return { type: 'group', children: kids };
    }
  };
}

function textEl(x, y, text, size, color, align, rot) {
  const el = { type: 'text', x: x, y: y, silent: true, z: 50,
    style: { text: text, font: size + 'px ' + FONT, fill: color, align: align, textAlign: align, verticalAlign: 'middle', textVerticalAlign: 'middle' } };
  if (rot) el.rotation = rot;
  return el;
}

panels.forEach((P) => {
  const gm = grids.length;
  grids.push({ left: GL, width: GW, top: P.L.mainTop, height: P.L.mainH, outerBoundsMode: 'none' });
  const gr = grids.length;
  grids.push({ left: GL, width: GW, top: P.L.resTop, height: P.L.resH, outerBoundsMode: 'none' });

  const xm = addX(gm, 'bottom', P.xr, P.xMaj, 14, true, null);
  addX(gm, 'bottom', P.xr, P.xMin, 7, false, null);
  addX(gm, 'top', P.xr, P.xMaj, 14, true, null);
  addX(gm, 'top', P.xr, P.xMin, 7, false, null);
  const ym = addY(gm, 'left', P.mr, P.mMaj, 14, true, P.mLab);
  addY(gm, 'left', P.mr, P.mMin, 7, false, null);
  addY(gm, 'right', P.mr, P.mMaj, 14, true, null);
  addY(gm, 'right', P.mr, P.mMin, 7, false, null);
  const xr = addX(gr, 'bottom', P.xr, P.xMaj, 14, true, P.xLab);
  addX(gr, 'bottom', P.xr, P.xMin, 7, false, null);
  addX(gr, 'top', P.xr, P.xMaj, 14, true, null);
  addX(gr, 'top', P.xr, P.xMin, 7, false, null);
  const yr = addY(gr, 'left', P.rr, P.rMaj, 14, true, P.rMaj);
  addY(gr, 'left', P.rr, P.rMin, 7, false, null);
  addY(gr, 'right', P.rr, P.rMaj, 14, true, null);
  addY(gr, 'right', P.rr, P.rMin, 7, false, null);

  series.push({ type: 'line', xAxisIndex: xr, yAxisIndex: yr, data: [[P.xr[0], 0], [P.xr[1], 0]],
    symbol: 'none', silent: true, lineStyle: { color: '#000', width: 1.6 }, z: 1 });

  series.push(errSeries(xm, ym, P.green, 1, 'diamond', GREEN));
  series.push(errSeries(xm, ym, P.red, 1, 'rect', RED));
  series.push(errSeries(xm, ym, P.blue, 1, 'circle', BLUE));
  series.push(errSeries(xr, yr, P.green, 2, 'diamond', GREEN));
  series.push(errSeries(xr, yr, P.red, 2, 'rect', RED));
  series.push(errSeries(xr, yr, P.blue, 2, 'circle', BLUE));

  series.push({ type: 'line', xAxisIndex: xm, yAxisIndex: ym, data: P.black, symbol: 'none', silent: true,
    smooth: 0.3, smoothMonotone: 'x', lineStyle: { color: '#000', width: 1.5 }, z: 4 });
  series.push({ type: 'line', xAxisIndex: xm, yAxisIndex: ym, data: P.mag, symbol: 'none', silent: true,
    smooth: 0.3, smoothMonotone: 'x', lineStyle: Object.assign({ color: MAG }, P.magStyle), z: 5 });

  P.lab.forEach((t, i) => graphic.push(textEl(250, P.L.ann[i], t, 33, '#000', 'left')));
  graphic.push(textEl(18, P.L.imagY, yTitleMain, 42, '#000', 'center', Math.PI / 2));
  graphic.push(textEl(18, P.L.resY, yTitleRes, 42, '#000', 'center', Math.PI / 2));
});
graphic.push(textEl(790, 1815, xTitle, 42, TXT, 'center'));

const chart = echarts.init(document.getElementById('c'), null, { renderer: 'canvas' });
chart.setOption({
  animation: false,
  backgroundColor: '#ffffff',
  grid: grids, xAxis: xAxes, yAxis: yAxes, series: series, graphic: graphic
});
</script></body></html>
